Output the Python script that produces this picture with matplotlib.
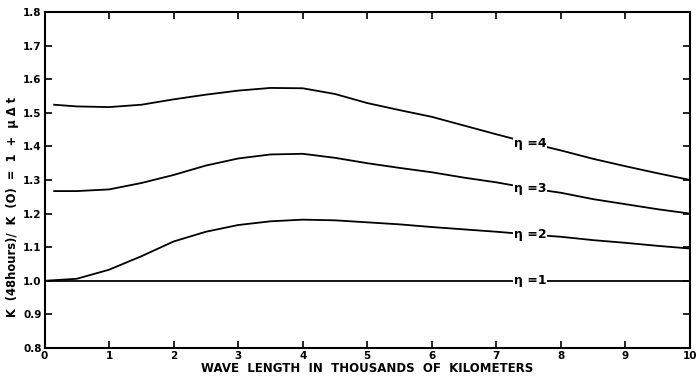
import matplotlib
matplotlib.use("Agg")
import matplotlib.pyplot as plt

# Data
x = [0.15, 0.5, 1.0, 1.5, 2.0, 2.5, 3.0, 3.5, 4.0, 4.5, 5.0, 5.5, 6.0, 6.5, 7.0, 7.5, 8.0, 8.5, 9.0, 9.5, 10.0]
eta4 = [1.524, 1.519, 1.517, 1.524, 1.540, 1.554, 1.566, 1.574, 1.573, 1.556, 1.529, 1.508, 1.488, 1.462, 1.436, 1.411, 1.388, 1.363, 1.341, 1.320, 1.300]
eta3 = [1.267, 1.267, 1.272, 1.291, 1.315, 1.343, 1.364, 1.376, 1.378, 1.366, 1.350, 1.336, 1.323, 1.307, 1.293, 1.276, 1.262, 1.243, 1.228, 1.213, 1.200]
x2 = [0.0, 0.5, 1.0, 1.5, 2.0, 2.5, 3.0, 3.5, 4.0, 4.5, 5.0, 5.5, 6.0, 6.5, 7.0, 7.5, 8.0, 8.5, 9.0, 9.5, 10.0]
eta2 = [1.0, 1.006, 1.033, 1.073, 1.117, 1.146, 1.166, 1.177, 1.182, 1.180, 1.174, 1.168, 1.160, 1.153, 1.146, 1.138, 1.131, 1.121, 1.113, 1.104, 1.096]
x1 = [0.0, 10.0]
eta1 = [1.0, 1.0]

labels = ["η =4", "η =3", "η =2", "η =1"]
label_x = 7.52
label_y = [1.41, 1.275, 1.138, 1.0]

xticks = list(range(0, 11))
yticks = [0.8, 0.9, 1.0, 1.1, 1.2, 1.3, 1.4, 1.5, 1.6, 1.7, 1.8]

fig = plt.figure(figsize=(6.98, 3.79), dpi=100)
ax = fig.add_axes([44.5/698, 31/379, (690-44.5)/698, (379-12-31)/379])

lw = 1.3
for xs, ys in [(x, eta4), (x, eta3), (x2, eta2), (x1, eta1)]:
    ax.plot(xs, ys, color="black", lw=lw, solid_joinstyle="round")

for lab, ly in zip(labels, label_y):
    ax.text(label_x, ly, lab, ha="center", va="center", fontsize=9,
            color="black", fontweight="bold",
            bbox=dict(facecolor="white", edgecolor="none", pad=0.3))

ax.set_xlim(0, 10)
ax.set_ylim(0.8, 1.8)
ax.set_xticks(xticks)
ax.set_xticklabels([str(t) for t in xticks], fontsize=7.5, fontweight="bold")
ax.set_yticks(yticks)
ax.set_yticklabels([f"{t:.1f}" for t in yticks], fontsize=7.5, fontweight="bold")
ax.tick_params(direction="in", length=5, width=1.2, top=True, right=True, pad=2)
for s in ax.spines.values():
    s.set_linewidth(1.5)

ax.set_xlabel("WAVE  LENGTH  IN  THOUSANDS  OF  KILOMETERS", fontsize=8.5,
              fontweight="bold", labelpad=1)
ax.set_ylabel("K  (48hours)/  K  (O)  =  1  +  μ Δ t", fontsize=8.3,
              fontweight="bold", va="center")
ax.yaxis.set_label_coords(-0.05, 0.42)

fig.savefig("out.png", dpi=100)
